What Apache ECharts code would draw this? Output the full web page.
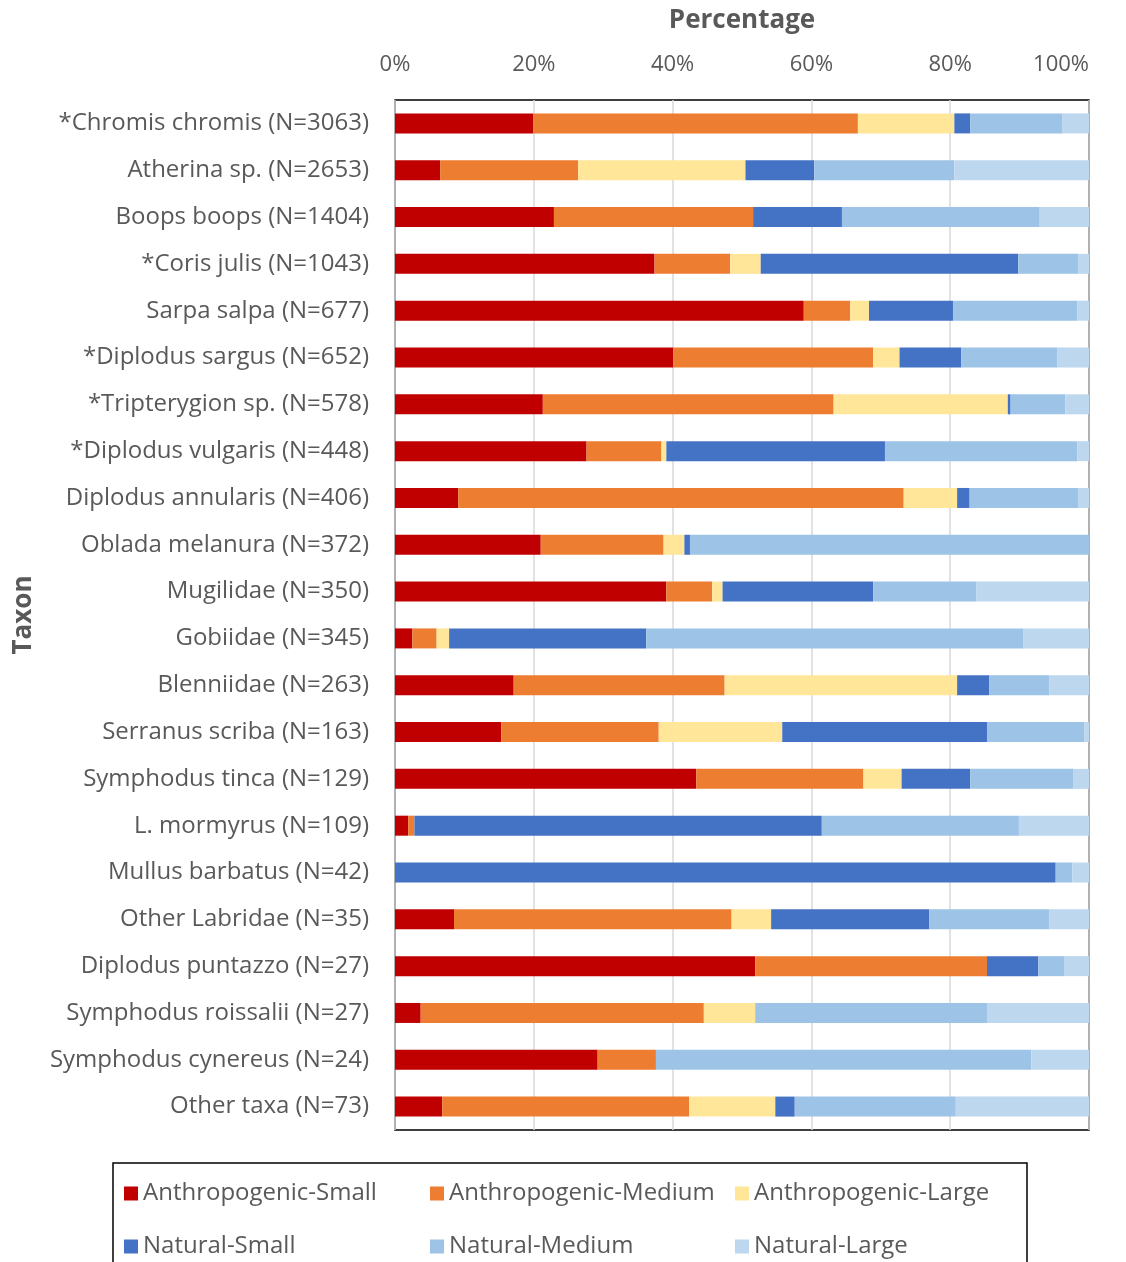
<!DOCTYPE html>
<html>
<head>
<meta charset="utf-8">
<script src="https://cdn.jsdelivr.net/npm/echarts@6/dist/echarts.min.js"></script>
<style>
  html, body { margin: 0; padding: 0; background: #fff; }
  #chart { width: 1126px; height: 1262px; }
</style>
</head>
<body>
<div id="chart"></div>
<script>
// 类别（自上而下）
var taxa = ['*Chromis chromis (N=3063)', 'Atherina sp. (N=2653)', 'Boops boops (N=1404)', '*Coris julis (N=1043)',
    'Sarpa salpa (N=677)', '*Diplodus sargus (N=652)', '*Tripterygion sp. (N=578)', '*Diplodus vulgaris (N=448)',
    'Diplodus annularis (N=406)', 'Oblada melanura (N=372)', 'Mugilidae (N=350)', 'Gobiidae (N=345)',
    'Blenniidae (N=263)', 'Serranus scriba (N=163)', 'Symphodus tinca (N=129)', 'L. mormyrus (N=109)',
    'Mullus barbatus (N=42)', 'Other Labridae (N=35)', 'Diplodus puntazzo (N=27)', 'Symphodus roissalii (N=27)',
    'Symphodus cynereus (N=24)', 'Other taxa (N=73)'];
var seriesNames = ['Anthropogenic-Small', 'Anthropogenic-Medium', 'Anthropogenic-Large', 'Natural-Small', 'Natural-Medium', 'Natural-Large'];
var xTicks = [0, 20, 40, 60, 80, 100];

var anthroSmall  = [19.9, 6.5, 22.9, 37.4, 58.9, 40.1, 21.3, 27.6, 9.1, 21.0, 39.1, 2.5, 17.1, 15.3, 43.4, 1.9, 0, 8.5, 51.9, 3.7, 29.2, 6.8];
var anthroMedium = [46.8, 19.9, 28.7, 10.9, 6.7, 28.8, 41.9, 10.8, 64.2, 17.7, 6.6, 3.5, 30.4, 22.7, 24.1, 0.9, 0, 40.0, 33.4, 40.8, 8.4, 35.6];
var anthroLarge  = [13.9, 24.1, 0, 4.4, 2.7, 3.8, 25.1, 0.7, 7.7, 3.0, 1.5, 1.8, 33.5, 17.8, 5.5, 0, 0, 5.7, 0, 7.4, 0, 12.4];
var naturalSmall = [2.3, 9.9, 12.8, 37.1, 12.1, 8.9, 0.4, 31.5, 1.8, 0.8, 21.7, 28.4, 4.6, 29.5, 9.9, 58.7, 95.2, 22.8, 7.4, 0, 0, 2.8];
var naturalMedium = [13.3, 20.2, 28.5, 8.7, 17.9, 13.8, 7.9, 27.7, 15.7, 57.5, 14.9, 54.3, 8.7, 14.0, 14.8, 28.4, 2.4, 17.3, 3.7, 33.4, 54.1, 23.2];
var naturalLarge = [3.8, 19.4, 7.1, 1.5, 1.7, 4.6, 3.4, 1.7, 1.5, 0, 16.2, 9.5, 5.7, 0.7, 2.3, 10.1, 2.4, 5.7, 3.6, 14.7, 8.3, 19.2];

var seriesData = [anthroSmall, anthroMedium, anthroLarge, naturalSmall, naturalMedium, naturalLarge];
var colors = ['#C00000', '#ED7D31', '#FFE699', '#4472C4', '#9DC3E6', '#BDD7EE'];

var chart = echarts.init(document.getElementById('chart'));
var textColor = '#595959';
var fontFamily = 'Open Sans';

var series = seriesNames.map(function (name, i) {
    return {
        name: name,
        type: 'bar',
        stack: 'total',
        barWidth: 20,
        itemStyle: { color: colors[i] },
        data: seriesData[i]
    };
});

// 图例：三列，每列两项
function legendCol(left, items) {
    return {
        orient: 'vertical',
        left: left,
        top: 1177,
        height: 200,
        padding: 0,
        itemWidth: 14,
        itemHeight: 14,
        itemGap: 20,
        icon: 'rect',
        textStyle: { color: textColor, fontSize: 24, fontFamily: fontFamily, lineHeight: 33 },
        data: items
    };
}

var option = {
    backgroundColor: '#fff',
    color: colors,
    animation: false,
    grid: {
        left: 395,
        right: 37,
        top: 100,
        bottom: 132,
        show: true,
        borderColor: '#000',
        borderWidth: 1.5,
        containLabel: false
    },
    legend: [
        legendCol(124, [seriesNames[0], seriesNames[3]]),
        legendCol(430, [seriesNames[1], seriesNames[4]]),
        legendCol(735, [seriesNames[2], seriesNames[5]])
    ],
    graphic: [{
        type: 'rect',
        shape: { x: 113, y: 1163, width: 914, height: 120 },
        style: { fill: 'none', stroke: '#000', lineWidth: 1.5 },
        silent: true
    }],
    xAxis: {
        type: 'value',
        position: 'top',
        min: xTicks[0],
        max: xTicks[xTicks.length - 1],
        interval: xTicks[1] - xTicks[0],
        name: 'Percentage',
        nameLocation: 'middle',
        nameGap: 66,
        nameTextStyle: { color: textColor, fontSize: 26, fontWeight: 'bold', fontFamily: fontFamily },
        axisLine: { show: false },
        axisTick: { show: false },
        axisLabel: { color: textColor, fontSize: 22, fontFamily: fontFamily, margin: 24, formatter: '{value}%', alignMaxLabel: 'right' },
        splitLine: { show: true, lineStyle: { color: '#d9d9d9', width: 1.5 } }
    },
    yAxis: {
        type: 'category',
        inverse: true,
        data: taxa,
        name: 'Taxon',
        nameLocation: 'middle',
        nameGap: 358,
        nameRotate: 90,
        nameTextStyle: { color: textColor, fontSize: 26, fontWeight: 'bold', fontFamily: fontFamily },
        axisLine: { show: false },
        axisTick: { show: false },
        axisLabel: { color: textColor, fontSize: 24, fontFamily: fontFamily, margin: 26 }
    },
    series: series
};

chart.setOption(option);
</script>
</body>
</html>
